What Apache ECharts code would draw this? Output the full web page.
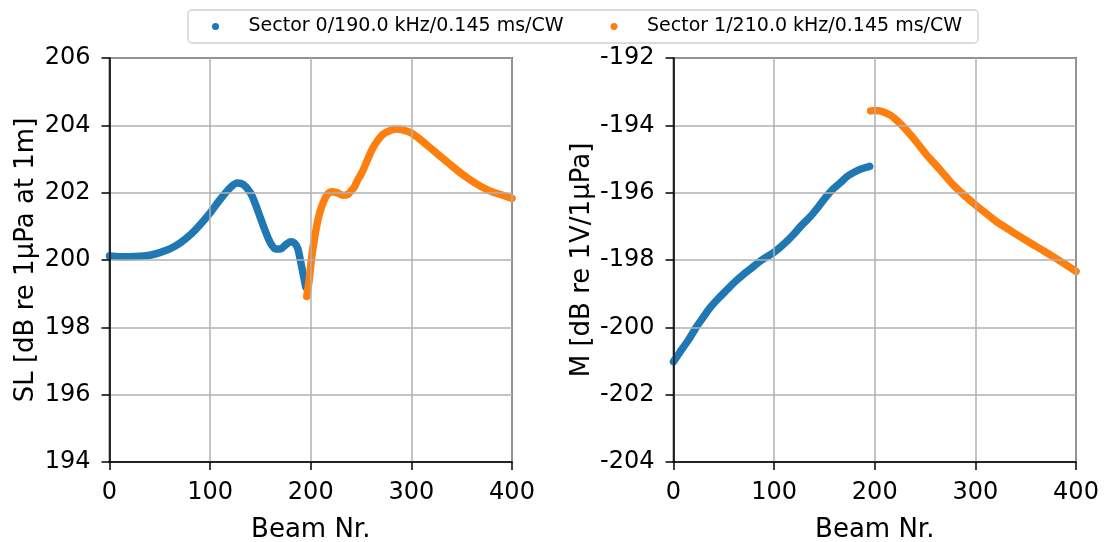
<!DOCTYPE html>
<html>
<head>
<meta charset="utf-8">
<script src="https://cdn.jsdelivr.net/npm/echarts@6/dist/echarts.min.js"></script>
<style>
  html, body { margin: 0; padding: 0; background: #fff; }
  #chart { width: 1104px; height: 542px; }
</style>
</head>
<body>
<div id="chart"></div>
<script>
// Series names
const sector0Name = 'Sector 0/190.0 kHz/0.145 ms/CW';
const sector1Name = 'Sector 1/210.0 kHz/0.145 ms/CW';

// Source level per beam [beam, dB re 1µPa at 1m]
const slSector0 = [
  [0, 200.12], [10, 200.1], [20, 200.1], [30, 200.11], [40, 200.14], [50, 200.22],
  [60, 200.33], [70, 200.5], [80, 200.74], [90, 201.05], [100, 201.4], [110, 201.8],
  [120, 202.15], [127, 202.29], [133, 202.24], [140, 202.0], [145, 201.66], [150, 201.25],
  [155, 200.85], [160, 200.5], [165, 200.33], [170, 200.33], [175, 200.45], [180, 200.54],
  [184, 200.5], [187, 200.35], [190, 199.95], [193, 199.5], [195, 199.2]
];
const slSector1 = [
  [196, 198.92], [198, 199.3], [201, 200.1], [204, 200.69], [207.5, 201.24], [211, 201.6],
  [216, 201.93], [221, 202.03], [226, 202.0], [232, 201.92], [237, 201.95], [240, 202.05],
  [243, 202.15], [247, 202.4], [251, 202.6], [256, 202.95], [261, 203.28], [266, 203.53],
  [272, 203.74], [279, 203.85], [285, 203.89], [292, 203.86], [300, 203.77], [310, 203.55],
  [320, 203.3], [330, 203.05], [340, 202.8], [350, 202.56], [360, 202.35], [370, 202.17],
  [380, 202.03], [390, 201.93], [400, 201.83]
];

// Receive sensitivity per beam [beam, dB re 1V/1µPa]
const mSector0 = [
  [0, -201.02], [5, -200.8], [10, -200.58], [15, -200.37], [23, -199.98], [30, -199.68],
  [36, -199.43], [45, -199.13], [53, -198.89], [61, -198.65], [69, -198.44], [78, -198.23],
  [86, -198.04], [93, -197.9], [100, -197.77], [110, -197.52], [119, -197.25], [127, -196.98],
  [136, -196.71], [144, -196.42], [152, -196.11], [159, -195.88], [166, -195.7], [172, -195.53],
  [179, -195.4], [187, -195.29], [195, -195.22]
];
const mSector1 = [
  [196, -193.57], [200, -193.56], [205, -193.57], [210, -193.62], [215, -193.69], [220, -193.8],
  [228, -194.03], [236, -194.3], [245, -194.63], [253, -194.93], [262, -195.22], [270, -195.5],
  [278, -195.77], [289, -196.08], [300, -196.36], [310, -196.6], [321, -196.86], [333, -197.09],
  [344, -197.3], [356, -197.52], [368, -197.73], [380, -197.95], [390, -198.14], [400, -198.34]
];

// Axis ranges and tick steps
const beamRange = [0, 400, 100];
const slRange = [194, 206, 2];
const mRange = [-204, -192, 2];

const FONT = 'DejaVu Sans';
const BLUE = '#1f77b4';
const ORANGE = '#ff7f0e';
const TICK_FONT = 24;
const NAME_FONT = 26;

function xAxisFor(gridIndex) {
  return {
    type: 'value', gridIndex, z: 3,
    min: beamRange[0], max: beamRange[1], interval: beamRange[2],
    name: 'Beam Nr.', nameLocation: 'middle', nameGap: 55,
    nameTextStyle: { fontFamily: FONT, fontSize: NAME_FONT, color: '#000' },
    axisLine: { show: true, onZero: false, lineStyle: { color: '#000', width: 1.5 } },
    axisTick: { show: true, inside: false, length: 8, lineStyle: { color: '#000', width: 1.5 } },
    axisLabel: { fontFamily: FONT, fontSize: TICK_FONT, color: '#000', margin: 19 },
    splitLine: { show: true, lineStyle: { color: '#b0b0b0', width: 1.5 } }
  };
}

function yAxisFor(gridIndex, range, name, gap) {
  return {
    type: 'value', gridIndex, z: 3,
    min: range[0], max: range[1], interval: range[2],
    name, nameLocation: 'middle', nameGap: gap,
    nameTextStyle: { fontFamily: FONT, fontSize: NAME_FONT, color: '#000' },
    axisLine: { show: true, onZero: false, lineStyle: { color: '#000', width: 1.5 } },
    axisTick: { show: true, inside: false, length: 8, lineStyle: { color: '#000', width: 1.5 } },
    axisLabel: { fontFamily: FONT, fontSize: TICK_FONT, color: '#000', margin: 19 },
    splitLine: { show: true, lineStyle: { color: '#b0b0b0', width: 1.5 } }
  };
}

function band(name, color, data, axisIndex) {
  return {
    name, type: 'line', data,
    xAxisIndex: axisIndex, yAxisIndex: axisIndex,
    smooth: 0.3,
    showSymbol: false, symbol: 'circle', z: 2,
    lineStyle: { color, width: 7.5, cap: 'round', join: 'round' },
    itemStyle: { color },
    emphasis: { disabled: true },
    animation: false
  };
}

const chart = echarts.init(document.getElementById('chart'), null, { renderer: 'canvas' });
chart.setOption({
  backgroundColor: '#fff',
  animation: false,
  graphic: [{
    type: 'rect', z: 0,
    shape: { x: 188, y: 10, width: 790, height: 33, r: 4 },
    style: { fill: '#fff', stroke: '#d0d0d0', lineWidth: 1.3 }
  }],
  legend: {
    left: 212, top: 17, padding: 0, itemGap: 47,
    itemWidth: 56, itemHeight: 7,
    icon: 'circle',
    data: [sector0Name, sector1Name],
    textStyle: { fontFamily: FONT, fontSize: 19, color: '#000' }
  },
  grid: [
    { left: 109.5, right: 1104 - 512, top: 58, bottom: 542 - 462,
      outerBoundsMode: 'none', containLabel: false,
      show: true, borderColor: '#000', borderWidth: 1.5, backgroundColor: '#fff' },
    { left: 673.5, right: 1104 - 1076, top: 58, bottom: 542 - 462,
      outerBoundsMode: 'none', containLabel: false,
      show: true, borderColor: '#000', borderWidth: 1.5, backgroundColor: '#fff' }
  ],
  xAxis: [xAxisFor(0), xAxisFor(1)],
  yAxis: [
    yAxisFor(0, slRange, 'SL [dB re 1µPa at 1m]', 70),
    yAxisFor(1, mRange, 'M [dB re 1V/1µPa]', 78)
  ],
  series: [
    band(sector0Name, BLUE, slSector0, 0),
    band(sector1Name, ORANGE, slSector1, 0),
    band(sector0Name, BLUE, mSector0, 1),
    band(sector1Name, ORANGE, mSector1, 1)
  ]
});
</script>
</body>
</html>
